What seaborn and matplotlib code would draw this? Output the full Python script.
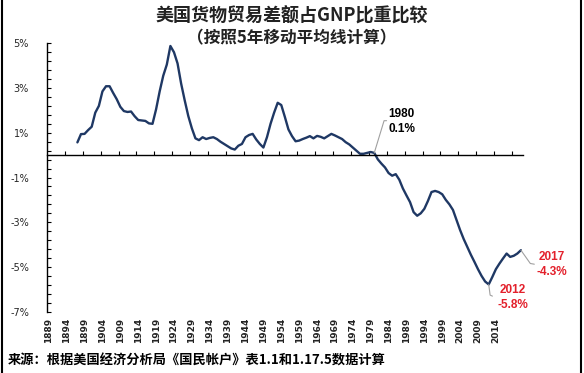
import matplotlib
matplotlib.use("Agg")
import matplotlib.pyplot as plt
import seaborn as sns
import pandas as pd
import numpy as np
from matplotlib.lines import Line2D
from matplotlib.transforms import Affine2D, ScaledTranslation

# category axis runs 1889..2021, the line starts in 1897
first_year = 1889
last_year = 2021
data_start = 1897
share = [
    0.57, 0.94, 0.95, 1.12, 1.27, 1.90, 2.20, 2.85, 3.08, 3.08,   # 1897-1906
    2.78, 2.50, 2.16, 1.97, 1.93, 1.95, 1.74, 1.57, 1.55, 1.53,   # 1907-1916
    1.42, 1.40, 2.05, 2.85, 3.55, 4.05, 4.88, 4.60, 4.10, 3.20,   # 1917-1926
    2.45, 1.75, 1.20, 0.75, 0.67, 0.80, 0.72, 0.77, 0.80, 0.72,   # 1927-1936
    0.60, 0.50, 0.40, 0.30, 0.25, 0.42, 0.50, 0.80, 0.90, 0.95,   # 1937-1946
    0.70, 0.50, 0.34, 0.80, 1.40, 1.90, 2.34, 2.24, 1.71, 1.15,   # 1947-1956
    0.85, 0.62, 0.65, 0.72, 0.78, 0.85, 0.75, 0.86, 0.82, 0.75,   # 1957-1966
    0.85, 0.95, 0.88, 0.80, 0.72, 0.58, 0.48, 0.34, 0.20, 0.06,   # 1967-1976
    0.06, 0.10, 0.14, 0.10, -0.19, -0.38, -0.55, -0.80, -0.92, -0.85,  # 1977-1986
    -1.10, -1.49, -1.80, -2.10, -2.55, -2.71, -2.60, -2.40, -2.05, -1.65,  # 1987-1996
    -1.60, -1.65, -1.75, -2.00, -2.20, -2.45, -2.90, -3.35, -3.75, -4.10,  # 1997-2006
    -4.45, -4.77, -5.10, -5.40, -5.65, -5.78, -5.45, -5.10, -4.85, -4.62,  # 2007-2016
    -4.40, -4.55, -4.50, -4.40, -4.25,                                      # 2017-2021
]
label_years = list(range(1889, 2015, 5))

callouts = [
    # (year of point, text, colour)
    (1980, "1980\n0.1%", "black"),
    (2012, "2012\n-5.8%", "#e3202b"),
    (2021, "2017\n-4.3%", "#e3202b"),
]

df = pd.DataFrame({"year": np.arange(data_start, data_start + len(share)), "share": share})

sns.set_style("white")
plt.rcParams["font.family"] = ["Noto Sans CJK SC", "DejaVu Sans"]

fig = plt.figure(figsize=(5.84, 3.73), dpi=100)
W, H = 584, 373
ax = fig.add_axes([47 / W, 1 - 311.7 / H, (522.7 - 47) / W, (311.7 - 43.3) / H])
ax.set_facecolor("none")

sns.lineplot(data=df, x="year", y="share", ax=ax, color="#1f3864", linewidth=1.7)

ax.set_xlim(first_year - 0.5, last_year + 0.5)
ax.set_ylim(-7, 5)
ax.set_xlabel("")
ax.set_ylabel("")

for s in ["top", "right"]:
    ax.spines[s].set_visible(False)
ax.spines["left"].set_color("black")
ax.spines["left"].set_linewidth(1.0)
ax.spines["bottom"].set_position(("data", 0))
ax.spines["bottom"].set_color("black")
ax.spines["bottom"].set_linewidth(1.0)

# y axis
ax.set_yticks(range(-7, 6, 2))
ax.set_yticklabels([f"{v}%" for v in range(-7, 6, 2)], fontsize=7, family="DejaVu Sans")
ax.set_yticks(np.arange(-7, 5.01, 0.4), minor=True)
ax.tick_params(axis="y", which="both", left=True, direction="in", length=3, width=0.8,
               color="black", pad=13)

# x axis: ticks on the zero line, labels at the bottom
ax.set_xticks([first_year - 0.5 + 5 * k for k in range(1, 27)])
ax.set_xticklabels([])
ax.tick_params(axis="x", which="major", bottom=True, direction="in", length=3, width=0.8,
               color="black")
for yr in label_years:
    ax.annotate(str(yr), xy=(yr, 0), xycoords=ax.get_xaxis_transform(),
                xytext=(0, -4.5), textcoords="offset points",
                rotation=90, ha="center", va="top",
                fontsize=6.5, fontweight="bold", family="DejaVu Sans", color="#222222")

# callouts with elbow leader lines (offsets in pixels)
leaders = {
    1980: ([0, 9.8, 12.3], [0, 32.2, 32.2], (27.3, 31.7)),
    2012: ([0, 1.4, 3.7], [0, -10.7, -11.7], (23.7, -13.2)),
    2021: ([0, 9.4, 13.4], [0, -13.3, -14.0], (30.7, -14.0)),
}
px = 72 / fig.dpi
for yr, txt, col in callouts:
    val = df.loc[df["year"] == yr, "share"].iloc[0]
    xs, ys, (tx, ty) = leaders[yr]
    trans = Affine2D().scale(1 / fig.dpi) + fig.dpi_scale_trans + ScaledTranslation(yr, val, ax.transData)
    ax.plot(xs, ys, transform=trans, color="#a0a0a0", linewidth=0.8, clip_on=False)
    ax.annotate(txt, xy=(yr, val), xytext=(tx * px, ty * px), textcoords="offset points",
                ha="center", va="center", fontsize=8.5, fontweight="bold",
                family=["Liberation Sans", "DejaVu Sans"], color=col, linespacing=1.3)

fig.text(292 / W, 1 - 16 / H, "美国货物贸易差额占GNP比重比较", ha="center", va="center",
         fontsize=13, fontweight="bold", color="#222222")
fig.text(292 / W, 1 - 38.5 / H, "（按照5年移动平均线计算）", ha="center", va="center",
         fontsize=12, fontweight="bold", color="#222222")
fig.text(8 / W, 1 - 361 / H, "来源：根据美国经济分析局《国民帐户》表1.1和1.17.5数据计算",
         ha="left", va="center", fontsize=9.5, fontweight="bold", color="black")

# frame edges of the original screenshot
fig.add_artist(Line2D([1.5 / W, 1.5 / W], [0, 1], transform=fig.transFigure, color="black", linewidth=1.5))
fig.add_artist(Line2D([581 / W, 581 / W], [0, 1], transform=fig.transFigure, color="black", linewidth=1.5))

fig.savefig("out.png", dpi=100, facecolor="white")
